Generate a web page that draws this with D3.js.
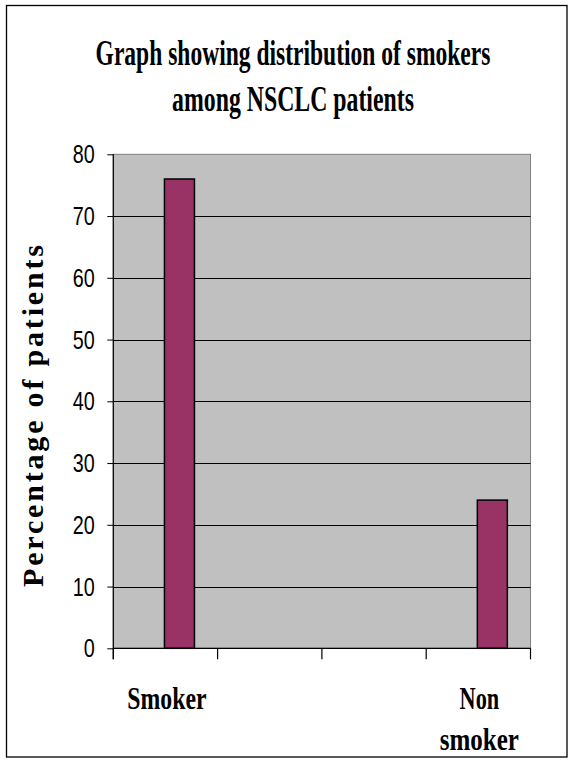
<!DOCTYPE html>
<html>
<head>
<meta charset="utf-8">
<script src="https://cdn.jsdelivr.net/npm/d3@7"></script>
<style>
  html, body { margin: 0; padding: 0; background: #fff; }
  svg { display: block; }
</style>
</head>
<body>
<script>
// ---- data ----
const titleLines = ["Graph showing distribution of smokers", "among NSCLC patients"];
const yAxisTitle = "Percentage of patients";
const categories = ["Smoker", "", "", "Non smoker"];
const values = [76, null, null, 24];
const yTicks = [0, 10, 20, 30, 40, 50, 60, 70, 80];

// ---- layout ----
const W = 574, H = 763;
const plot = { left: 113.3, right: 530.5, top: 154.3, bottom: 648.3 };
const serif = "'Liberation Serif', 'Times New Roman', serif";
const sans = "'Liberation Sans', Arial, sans-serif";

const svg = d3.select("body").append("svg").attr("width", W).attr("height", H);

// helper: horizontally condense a text to a target width (anchored middle or end)
function condense(sel, cx, cy, target) {
  sel.attr("x", 0).attr("y", 0);
  const natural = sel.node().getComputedTextLength();
  const s = Math.min(1, target / natural);
  sel.attr("transform", `translate(${cx},${cy}) scale(${s},1)`);
}

// outer frame
svg.append("rect")
  .attr("x", 6.5).attr("y", 5.5).attr("width", 560.5).attr("height", 751.5)
  .attr("fill", "#fff").attr("stroke", "#000").attr("stroke-width", 1.3);

const x = d3.scaleBand().domain(d3.range(categories.length)).range([plot.left, plot.right]).padding(0);
const y = d3.scaleLinear().domain([0, 80]).range([plot.bottom, plot.top]);

// plot area
svg.append("rect")
  .attr("x", plot.left).attr("y", plot.top)
  .attr("width", plot.right - plot.left).attr("height", plot.bottom - plot.top)
  .attr("fill", "#c0c0c0").attr("stroke", "#808080").attr("stroke-width", 1);

// gridlines
svg.append("g").selectAll("line")
  .data(yTicks.filter(d => d > 0 && d < 80))
  .join("line")
  .attr("x1", plot.left).attr("x2", plot.right)
  .attr("y1", d => Math.round(y(d)) + 0.5).attr("y2", d => Math.round(y(d)) + 0.5)
  .attr("stroke", "#000").attr("stroke-width", 1);

// bars
const barW = 30;
svg.append("g").selectAll("rect")
  .data(values.map((v, i) => ({ v, i })).filter(d => d.v != null))
  .join("rect")
  .attr("x", d => x(d.i) + x.bandwidth() / 2 - 1)
  .attr("y", d => y(d.v))
  .attr("width", barW)
  .attr("height", d => y(0) - y(d.v))
  .attr("fill", "#993366")
  .attr("stroke", "#000").attr("stroke-width", 1.5);

// y axis
const yAxis = svg.append("g")
  .attr("transform", `translate(${plot.left},0)`)
  .call(d3.axisLeft(y).tickValues(yTicks).tickSize(6).tickPadding(12));
yAxis.select(".domain").remove();
yAxis.selectAll(".tick line").attr("stroke", "#000");
yAxis.selectAll(".tick text")
  .attr("font-family", sans)
  .attr("font-size", 25)
  .attr("fill", "#000")
  .attr("dy", "0.34em")
  .each(function(d) {
    condense(d3.select(this), -18.5, 0, String(d).length * 11);
  });
svg.append("line")
  .attr("x1", plot.left).attr("x2", plot.left)
  .attr("y1", plot.top).attr("y2", plot.bottom + 11)
  .attr("stroke", "#000").attr("stroke-width", 1.2);

// x axis
svg.append("line")
  .attr("x1", plot.left).attr("x2", plot.right)
  .attr("y1", plot.bottom).attr("y2", plot.bottom)
  .attr("stroke", "#000").attr("stroke-width", 1.2);
const edges = d3.range(categories.length + 1).map(i => i < categories.length ? x(i) : plot.right);
svg.append("g").selectAll("line")
  .data(edges)
  .join("line")
  .attr("x1", d => d).attr("x2", d => d)
  .attr("y1", plot.bottom).attr("y2", plot.bottom + 11)
  .attr("stroke", "#000").attr("stroke-width", 1.2);

// x labels
const xLab = svg.append("g");
categories.forEach((c, i) => {
  if (!c) return;
  const cx = x(i) + x.bandwidth() / 2;
  const words = c.split(" ");
  words.forEach((w, j) => {
    const t = xLab.append("text")
      .attr("text-anchor", "middle")
      .attr("font-family", serif).attr("font-weight", "bold").attr("font-size", 32)
      .text(w);
    condense(t, cx + (words.length > 1 ? 1 : 1.5), 709 + j * 41, w.length * 13.2);
  });
});

// title
titleLines.forEach((tl, i) => {
  const t = svg.append("text")
    .attr("text-anchor", "middle")
    .attr("font-family", serif).attr("font-weight", "bold").attr("font-size", 35)
    .text(tl);
  condense(t, 293, 65 + i * 45.5, i === 0 ? 395 : 242);
});

// y axis title
svg.append("text")
  .attr("transform", "translate(43,416) rotate(-90)")
  .attr("text-anchor", "middle")
  .attr("font-family", serif).attr("font-weight", "bold").attr("font-size", 30)
  .attr("textLength", 342)
  .attr("lengthAdjust", "spacing")
  .text(yAxisTitle);
</script>
</body>
</html>
